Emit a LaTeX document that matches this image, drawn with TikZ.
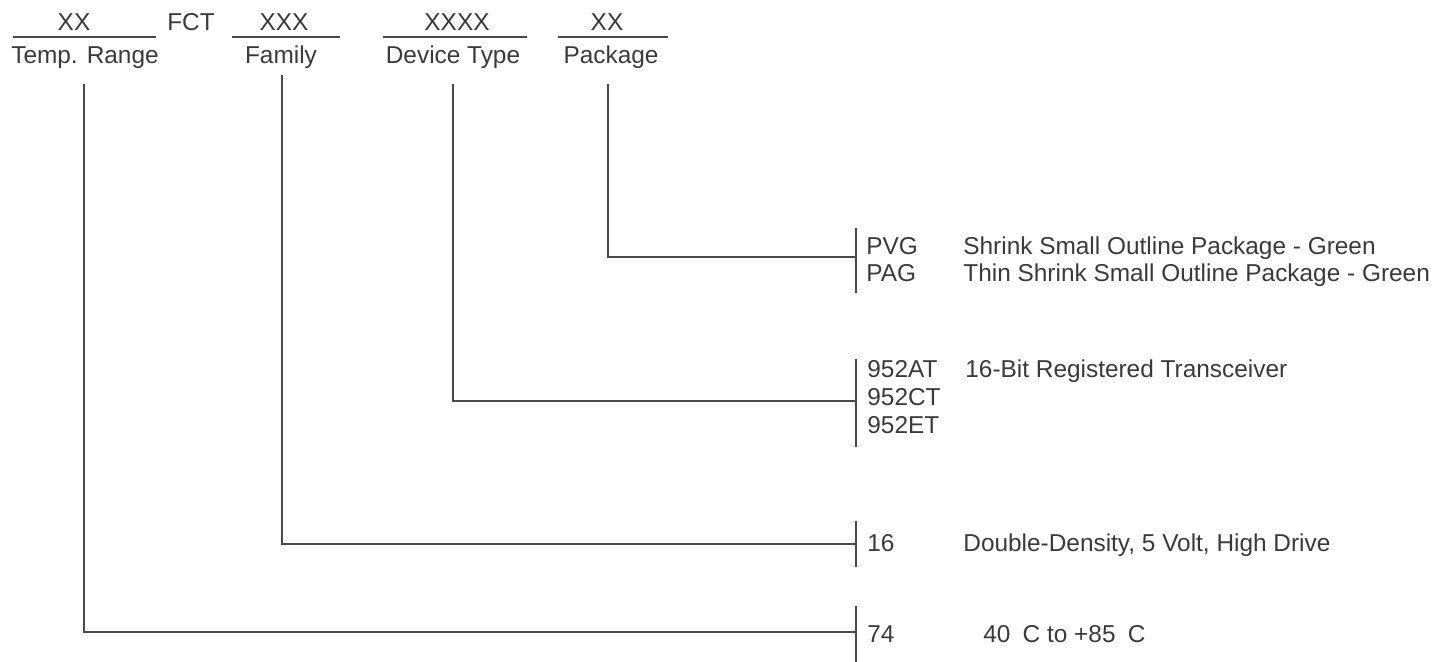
\documentclass[tikz,border=0pt]{standalone}
\usepackage{fontspec}
\setmainfont{Liberation Sans}
\definecolor{inkgray}{HTML}{3A3A3A}
\definecolor{linegray}{HTML}{4A4A4A}

\begin{document}
\begin{tikzpicture}[x=0.5pt, y=-0.5pt,
    txt/.style={inner sep=0pt, font=\fontsize{12.2}{14}\selectfont, text=inkgray},
    rule/.style={draw=linegray, line width=0.7pt}]
    \useasboundingbox (0,0) rectangle (1442,662);
    % part number fields
    \node[txt, anchor=base] (fxx) at (74, 31) {XX};
    \node[txt, anchor=base] (ffct) at (191, 31) {FCT};
    \node[txt, anchor=base] (fxxx) at (284, 31) {XXX};
    \node[txt, anchor=base] (fxxxx) at (457, 31) {XXXX};
    \node[txt, anchor=base] (fpk) at (607, 31) {XX};
    \draw[rule] (13,37) -- (156,37);
    \draw[rule] (232,37) -- (340,37);
    \draw[rule] (383,37) -- (527,37);
    \draw[rule] (558,37) -- (668,37);
    \node[txt, anchor=base] (temp) at (85, 64) {Temp. Range};
    \node[txt, anchor=base] (fam) at (281, 64) {Family};
    \node[txt, anchor=base] (dev) at (453, 64) {Device Type};
    \node[txt, anchor=base] (pkg) at (611, 64) {Package};
    % leaders
    \coordinate (temptop) at (84, 84);
    \coordinate (famtop) at (282, 75);
    \coordinate (devtop) at (453, 84);
    \coordinate (pkgtop) at (608, 84);
    \coordinate (bpkg) at (856, 257);
    \coordinate (bdev) at (856, 401);
    \coordinate (bfam) at (856, 544);
    \coordinate (btemp) at (856, 632);
    \draw[rule] (pkgtop) |- (bpkg);
    \draw[rule] (devtop) |- (bdev);
    \draw[rule] (famtop) |- (bfam);
    \draw[rule] (temptop) |- (btemp);
    % bars
    \draw[rule] (856,228) -- (856,293);
    \draw[rule] (856,359) -- (856,447);
    \draw[rule] (856,521) -- (856,567);
    \draw[rule] (856,606) -- (856,662);
    % package codes
    \node[txt, anchor=base west] (pvg) at (866, 255) {PVG};
    \node[txt, anchor=base west] (pag) at (866, 282) {PAG};
    \node[txt, anchor=base west] (dpvg) at (963, 255) {Shrink Small Outline Package - Green};
    \node[txt, anchor=base west] (dpag) at (963, 282) {Thin Shrink Small Outline Package - Green};
    % device types
    \node[txt, anchor=base west] (at) at (867, 378) {952AT};
    \node[txt, anchor=base west] (ct) at (867, 406) {952CT};
    \node[txt, anchor=base west] (et) at (867, 434) {952ET};
    \node[txt, anchor=base west] (dat) at (965, 378) {16-Bit Registered Transceiver};
    % family
    \node[txt, anchor=base west] (f16) at (867, 552) {16};
    \node[txt, anchor=base west] (d16) at (963, 552) {Double-Density, 5 Volt, High Drive};
    % temp range
    \node[txt, anchor=base west] (t74) at (867, 643) {74};
    \node[txt, anchor=base west] (d74) at (983, 643) {40\enspace C to +85\enspace C};
\end{tikzpicture}
\end{document}
